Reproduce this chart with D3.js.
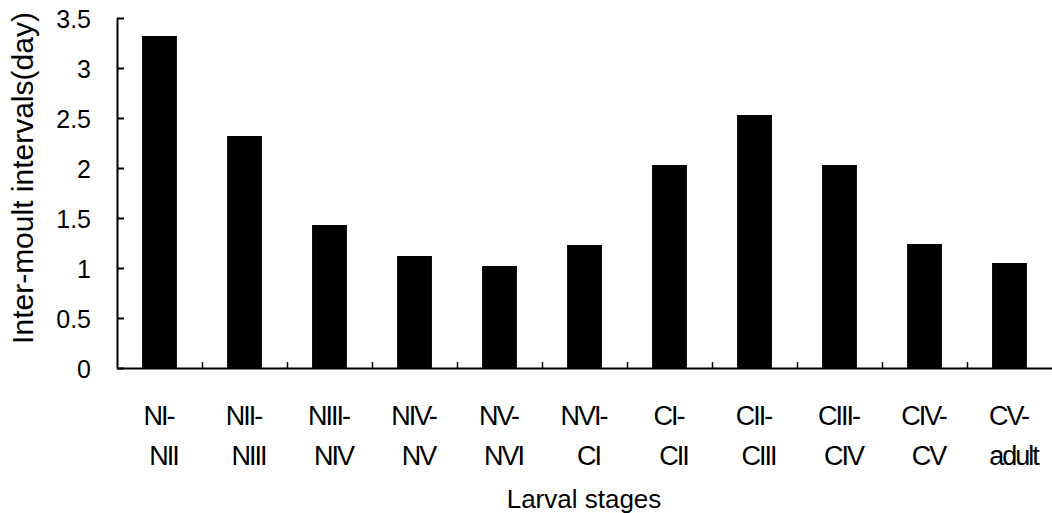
<!DOCTYPE html>
<html>
<head>
<meta charset="utf-8">
<script src="https://cdn.jsdelivr.net/npm/d3@7"></script>
<style>
  body { margin: 0; background: #fff; }
  text { font-family: "Liberation Sans", Arial, sans-serif; fill: #000; }
</style>
</head>
<body>
<div id="chart"></div>
<script>
// data
var stageTop = ["NI-", "NII-", "NIII-", "NIV-", "NV-", "NVI-", "CI-", "CII-", "CIII-", "CIV-", "CV-"];
var stageBottom = ["NII", "NIII", "NIV", "NV", "NVI", "CI", "CII", "CIII", "CIV", "CV", "adult"];
var intervals = [3.32, 2.32, 1.43, 1.12, 1.02, 1.23, 2.03, 2.53, 2.03, 1.24, 1.05];
var yTicks = [0, 0.5, 1, 1.5, 2, 2.5, 3, 3.5];

var W = 1052, H = 513;
// plot area (note: "top" is taken by window.top, so prefixed names)
var plotLeft = 117, plotRight = 1052, plotTop = 18, plotBottom = 368;

var svg = d3.select("#chart").append("svg")
    .attr("width", W)
    .attr("height", H);

var x = d3.scaleBand()
    .domain(d3.range(intervals.length))
    .range([plotLeft, plotRight])
    .paddingInner(0.59)
    .paddingOuter(0.295);

// boundaries between the categories, for the small inside ticks
var xEdge = d3.scaleLinear()
    .domain([0, intervals.length])
    .range([plotLeft, plotRight]);

var y = d3.scaleLinear()
    .domain([0, 3.5])
    .range([plotBottom, plotTop]);

// bars
svg.append("g")
    .selectAll("rect")
    .data(intervals)
    .enter()
    .append("rect")
    .attr("x", function(d, i) { return x(i); })
    .attr("y", function(d) { return y(d); })
    .attr("width", x.bandwidth())
    .attr("height", function(d) { return y(0) - y(d); })
    .attr("fill", "#000");

// y axis, ticks pointing inside
var yAxis = svg.append("g")
    .attr("transform", "translate(" + plotLeft + ",0)")
    .call(d3.axisLeft(y)
        .tickValues(yTicks)
        .tickSizeInner(-7)
        .tickSizeOuter(0)
        .tickPadding(26)
        .tickFormat(function(d) { return d; }));
yAxis.select(".domain").attr("stroke-width", 2);
yAxis.selectAll(".tick line").attr("stroke-width", 2);
yAxis.selectAll(".tick text")
    .style("font-size", "25px")
    .attr("dy", "0.36em");

// x axis
var xAxis = svg.append("g")
    .attr("transform", "translate(0," + plotBottom + ")")
    .call(d3.axisBottom(xEdge)
        .tickValues(d3.range(1, intervals.length))
        .tickSizeInner(-6)
        .tickSizeOuter(0)
        .tickFormat(""));
xAxis.select(".domain").attr("stroke-width", 2);
xAxis.selectAll(".tick line").attr("stroke-width", 1.5);

// two-line category labels
var labels = svg.append("g")
    .selectAll("text")
    .data(stageTop)
    .enter()
    .append("text")
    .attr("text-anchor", "middle")
    .style("font-size", "27px")
    .style("letter-spacing", "-2px");

labels.append("tspan")
    .attr("x", function(d, i) { return x(i) + x.bandwidth() / 2 - 1; })
    .attr("y", plotBottom + 57)
    .text(function(d) { return d; });

labels.append("tspan")
    .attr("x", function(d, i) { return x(i) + x.bandwidth() / 2 + 4; })
    .attr("y", plotBottom + 97)
    .text(function(d, i) { return stageBottom[i]; });

// axis titles
svg.append("text")
    .attr("x", 584)
    .attr("y", 508)
    .attr("text-anchor", "middle")
    .style("font-size", "26px")
    .text("Larval stages");

svg.append("text")
    .attr("transform", "translate(33,178) rotate(-90)")
    .attr("text-anchor", "middle")
    .style("font-size", "30px")
    .text("Inter-moult intervals(day)");
</script>
</body>
</html>
